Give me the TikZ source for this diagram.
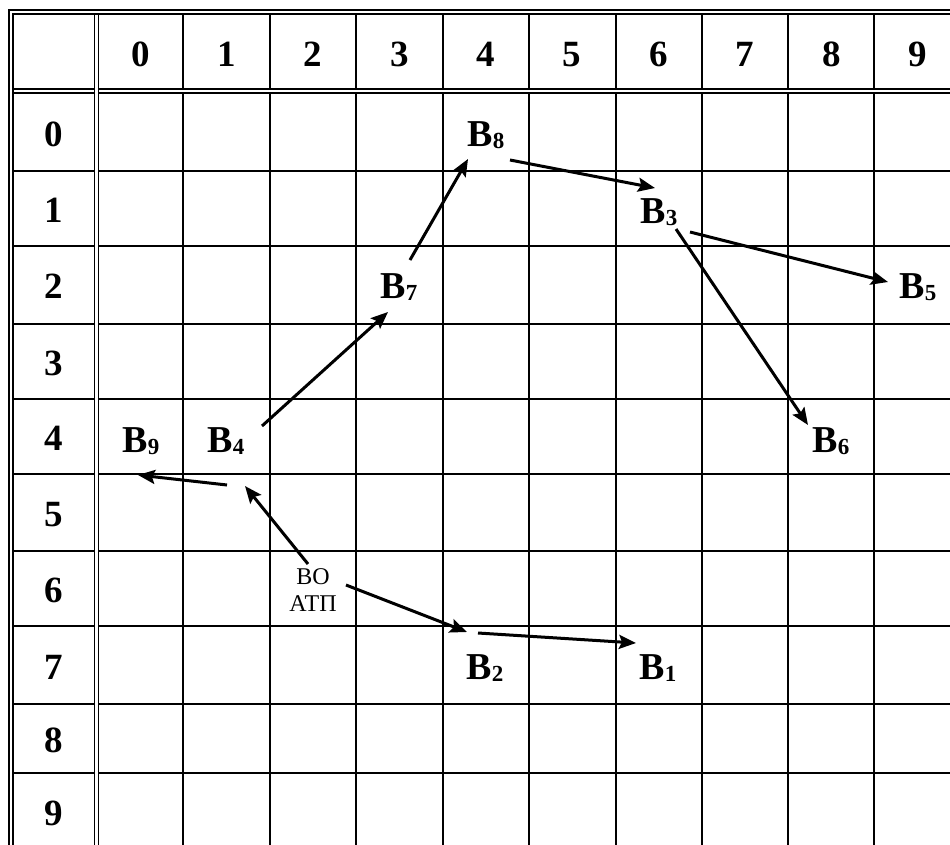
\documentclass[tikz,border=0pt]{standalone}
\usepackage{fontspec}
\setmainfont{Liberation Serif}
\usetikzlibrary{arrows.meta}
\newcommand{\bsub}[1]{\textbf{В}\raisebox{-2.5pt}{\fontsize{23}{23}\selectfont\bfseries #1}}

\begin{document}
\begin{tikzpicture}[x=1pt, y=-1pt,
    gridline/.style={line width=2pt},
    dbl/.style={line width=1.7pt, double, double distance=2.3pt},
    num/.style={font=\fontsize{37}{40}\selectfont\bfseries, inner sep=0pt, anchor=base},
    lbl/.style={font=\fontsize{38}{40}\selectfont, inner sep=0pt, anchor=base},
    depot/.style={font=\fontsize{24}{27}\selectfont, align=center, inner sep=0pt},
    arrow/.style={-{Stealth[length=17pt,width=14pt,inset=3pt]}, line width=3pt}
  ]
    \useasboundingbox (0,0) rectangle (950,844);
    \clip (0,0) rectangle (950,844);

    % grid
    \foreach \x in {183.2,270,356,442.7,528.8,615.5,701.6,788.3,874.4}
      \draw[gridline] (\x,14) -- (\x,860);
    \foreach \y in {170.7,246,323.7,399.3,474.3,550.7,626.3,704,772.7}
      \draw[gridline] (13,\y) -- (960,\y);
    \draw[dbl] (13.85,91.3) -- (960,91.3);
    \draw[dbl] (96.5,14.85) -- (96.5,860);
    \draw[dbl] (11,860) -- (11,12) -- (960,12);

    % header and row numbers
    \foreach \c/\x in {0/140.9,1/226.6,2/313,3/399.4,4/485.8,5/572.2,6/658.6,7/745,8/831.4,9/917.5}
      \node[num] (col\c) at (\x,66.5) {\c};
    \foreach \r/\y in {0/146,1/222.4,2/298.9,3/375.5,4/450.8,5/526.5,6/602.5,7/679.2,8/752.4,9/825}
      \node[num] (row\r) at (53.8,\y) {\r};

    % points
    \node[depot] (ato) at (313,590) {ВО\\АТП};
    \node[lbl] (B9) at (141,452) {\bsub{9}};
    \node[lbl] (B4) at (226,452) {\bsub{4}};
    \node[lbl] (B7) at (399,298) {\bsub{7}};
    \node[lbl] (B8) at (486,146) {\bsub{8}};
    \node[lbl] (B3) at (659,223) {\bsub{3}};
    \node[lbl] (B5) at (918,298) {\bsub{5}};
    \node[lbl] (B6) at (831,452) {\bsub{6}};
    \node[lbl] (B2) at (485,679) {\bsub{2}};
    \node[lbl] (B1) at (658,679) {\bsub{1}};

    % routes
    \draw[arrow] ([xshift=-5pt,yshift=26pt]ato.center) -- ([xshift=19pt,yshift=-34pt]B4.base);
    \draw[arrow] ([xshift=33pt,yshift=5pt]ato.center) -- ([xshift=-18pt,yshift=47pt]B2.base);
    \draw[arrow] ([xshift=1pt,yshift=-33pt]B4.base) -- ([xshift=-3pt,yshift=-23pt]B9.base);
    \draw[arrow] ([xshift=36pt,yshift=26pt]B4.base) -- ([xshift=-11pt,yshift=-14pt]B7.base);
    \draw[arrow] ([xshift=11pt,yshift=38pt]B7.base) -- ([xshift=-18pt,yshift=-13pt]B8.base);
    \draw[arrow] ([xshift=24pt,yshift=-14pt]B8.base) -- ([xshift=-4pt,yshift=35pt]B3.base);
    \draw[arrow] ([xshift=31pt,yshift=-9pt]B3.base) -- ([xshift=-30pt,yshift=16pt]B5.base);
    \draw[arrow] ([xshift=17pt,yshift=-6pt]B3.base) -- ([xshift=-23pt,yshift=27pt]B6.base);
    \draw[arrow] ([xshift=-7pt,yshift=46pt]B2.base) -- ([xshift=-22pt,yshift=36pt]B1.base);
\end{tikzpicture}
\end{document}
